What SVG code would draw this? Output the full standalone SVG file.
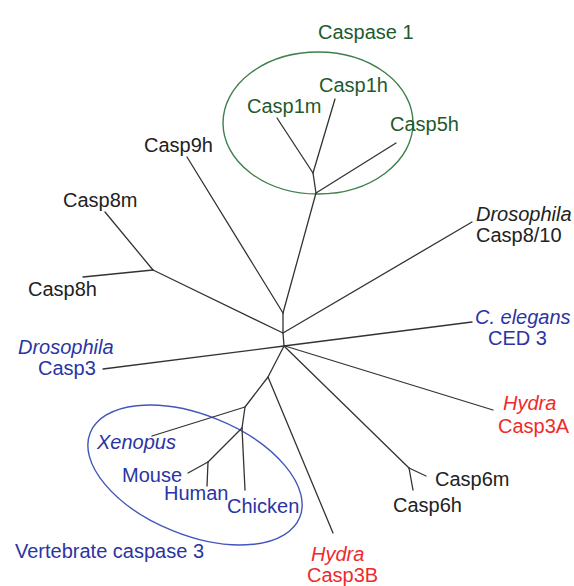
<svg xmlns="http://www.w3.org/2000/svg" width="574" height="586" viewBox="0 0 574 586">
<style>
text{font-family:"Liberation Sans",Arial,sans-serif;font-size:20px}
.k{fill:#222}
.g{fill:#1f5a2c}
.b{fill:#2b34a4}
.r{fill:#f02a2a}
.i{font-style:italic}
.br{fill:none;stroke:#333;stroke-width:1.3;stroke-linecap:round;stroke-linejoin:round}
</style>
<rect width="574" height="586" fill="#fff"/>
<g id="clade-caspase1">
<ellipse cx="318" cy="123" rx="95" ry="71" fill="none" stroke="#3f7f4c" stroke-width="1.4"/>
<text class="g" x="318" y="39">Caspase 1</text>
</g>
<g id="clade-vertebrate">
<ellipse cx="195" cy="475" rx="113" ry="60" transform="rotate(22 195 475)" fill="none" stroke="#4455bb" stroke-width="1.4"/>
<text class="b" x="15" y="558">Vertebrate caspase 3</text>
</g>
<g id="connectors" class="br">
<path d="M283,313 L283,333 L284,346"/>
<path d="M283,313 L187,157"/>
<path d="M283,313 L316,193"/>
<path d="M316,193 L396,143"/>
<path d="M316,193 L313,173"/>
<path d="M313,173 L277,118"/>
<path d="M313,173 L335,99"/>
<path d="M283,333 L153,270"/>
<path d="M153,270 L105,212"/>
<path d="M153,270 L83,277"/>
<path d="M283,333 L472,222"/>
<path d="M284,346 L103,369"/>
<path d="M284,346 L472,322"/>
<path d="M285,346 L493,410"/>
<path d="M285,347 L409,468"/>
<path d="M409,468 L426,476"/>
<path d="M409,468 L413,490"/>
<path d="M284,346 L268,377 L245,407 L242,428"/>
<path d="M268,377 L333,533"/>
<path d="M245,407 L152,436"/>
<path d="M242,428 L245,490"/>
<path d="M242,428 L208,462"/>
<path d="M208,462 L188,473"/>
<path d="M208,462 L207,486"/>
</g>
<g id="n-casp1h"><text class="g" x="319" y="92">Casp1h</text></g>
<g id="n-casp1m"><text class="g" x="247" y="113">Casp1m</text></g>
<g id="n-casp5h"><text class="g" x="390" y="131">Casp5h</text></g>
<g id="n-casp9h"><text class="k" x="144" y="152">Casp9h</text></g>
<g id="n-casp8m"><text class="k" x="63" y="207">Casp8m</text></g>
<g id="n-casp8h"><text class="k" x="28" y="296">Casp8h</text></g>
<g id="n-dros-casp8-10"><text class="k i" x="476" y="221">Drosophila</text><text class="k" x="476" y="242">Casp8/10</text></g>
<g id="n-ced3"><text class="b i" x="475" y="324">C. elegans</text><text class="b" x="488" y="345">CED 3</text></g>
<g id="n-dros-casp3"><text class="b i" x="18" y="354">Drosophila</text><text class="b" x="38" y="375">Casp3</text></g>
<g id="n-hydra-casp3a"><text class="r i" x="503" y="410">Hydra</text><text class="r" x="498" y="433">Casp3A</text></g>
<g id="n-casp6m"><text class="k" x="435" y="486">Casp6m</text></g>
<g id="n-casp6h"><text class="k" x="393" y="512">Casp6h</text></g>
<g id="n-hydra-casp3b"><text class="r i" x="311" y="561">Hydra</text><text class="r" x="307" y="582">Casp3B</text></g>
<g id="n-xenopus"><text class="b i" x="97" y="449">Xenopus</text></g>
<g id="n-mouse"><text class="b" x="122" y="482">Mouse</text></g>
<g id="n-human"><text class="b" x="164" y="500">Human</text></g>
<g id="n-chicken"><text class="b" x="227" y="513">Chicken</text></g>
</svg>
